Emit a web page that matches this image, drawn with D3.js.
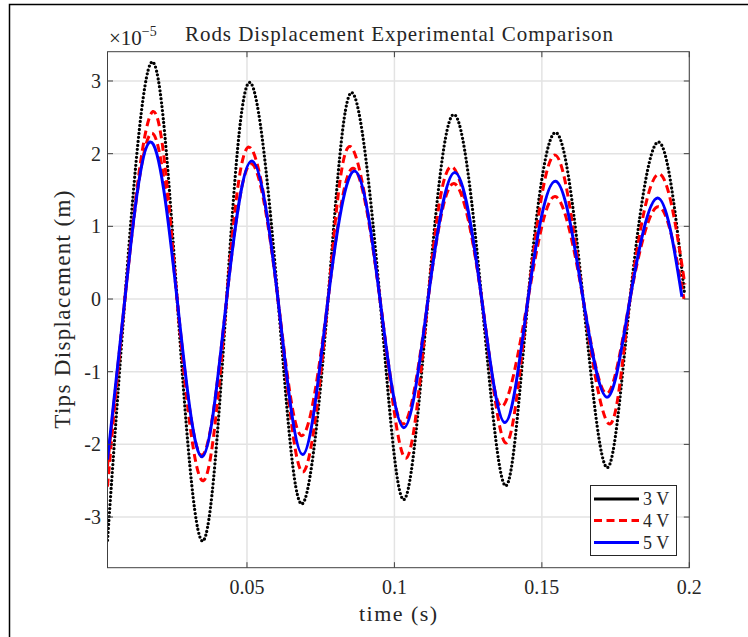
<!DOCTYPE html>
<html>
<head>
<meta charset="utf-8">
<script src="https://cdn.jsdelivr.net/npm/d3@7"></script>
<style>
  html, body { margin: 0; padding: 0; background: #fff; }
  svg { display: block; }
  text { font-family: "Liberation Serif", "DejaVu Serif", serif; fill: #262626; }
</style>
</head>
<body>
<svg id="chart" width="748" height="637"></svg>
<script>
// ---- data (time in s, displacement in 1e-5 m) ----
const series3V = [[0.0027,-3.32],[0.0086,0],[0.0177,3.26],[0.0263,0],[0.0350,-3.33],[0.0431,0],[0.0510,2.98],[0.0605,0],[0.0686,-2.82],[0.0775,0],[0.0855,2.84],[0.0951,0],[0.1032,-2.76],[0.1114,0],[0.1202,2.54],[0.1296,0],[0.1378,-2.57],[0.1453,0],[0.1547,2.29],[0.1640,0],[0.1722,-2.32],[0.1799,0],[0.1895,2.16],[0.1983,0.1]];
const series4Va = [[0.0027,-2.58],[0.0086,0],[0.0181,2.58],[0.0263,0],[0.0352,-2.50],[0.0431,0],[0.0507,2.09],[0.0605,0],[0.0689,-2.38],[0.0775,0],[0.0849,2.10],[0.0951,0],[0.1039,-2.19],[0.1114,0],[0.1194,1.82],[0.1296,0],[0.1378,-1.98],[0.1453,0],[0.1545,1.98],[0.1640,0],[0.1731,-1.72],[0.1799,0],[0.1895,1.72],[0.1985,0.2]];
const series4Vb = [[0.0027,-2.30],[0.0086,0],[0.0176,2.28],[0.0263,0],[0.0348,-2.15],[0.0431,0],[0.0515,1.86],[0.0605,0],[0.0686,-1.88],[0.0775,0],[0.0860,1.80],[0.0951,0],[0.1030,-1.72],[0.1114,0],[0.1202,1.59],[0.1296,0],[0.1364,-1.48],[0.1453,0],[0.1545,1.41],[0.1640,0],[0.1720,-1.30],[0.1799,0],[0.1895,1.27],[0.1982,0.0]];
const series5V = [[0.0027,-2.21],[0.0086,0],[0.0171,2.16],[0.0263,0],[0.0348,-2.17],[0.0431,0],[0.0516,1.90],[0.0605,0],[0.0689,-2.14],[0.0775,0],[0.0866,1.76],[0.0951,0],[0.1032,-1.77],[0.1114,0],[0.1205,1.74],[0.1296,0],[0.1375,-1.70],[0.1453,0],[0.1547,1.62],[0.1640,0],[0.1722,-1.35],[0.1799,0],[0.1892,1.39],[0.1975,0.03]];
const xTicks = [0.05, 0.1, 0.15, 0.2];
const xTickLabels = ["0.05", "0.1", "0.15", "0.2"];
const yTicks = [-3, -2, -1, 0, 1, 2, 3];
const yTickLabels = ["-3", "-2", "-1", "0", "1", "2", "3"];
const legendLabels = ["3 V", "4 V", "5 V"];
const xDomain = [0.0027, 0.2];
const yDomain = [-3.697, 3.403];

// ---- layout ----
const svg = d3.select("#chart");
const L = 107.5, R = 689.3, T = 51.7, B = 567.7;
const x = d3.scaleLinear().domain(xDomain).range([L, R]);
const y = d3.scaleLinear().domain(yDomain).range([B, T]);
const axisCol = "#404040";

// figure frame (partially visible)
svg.append("path").attr("d", `M9.5,637 L9.5,4.5 L748,4.5`).attr("fill", "none").attr("stroke", "#000").attr("stroke-width", 1.5);

// grid
const grid = svg.append("g");
grid.selectAll(".gx").data(xTicks).join("line")
  .attr("x1", d => x(d)).attr("x2", d => x(d)).attr("y1", T).attr("y2", B)
  .attr("stroke", "#e3e3e3").attr("stroke-width", 1.5);
grid.selectAll(".gy").data(yTicks).join("line")
  .attr("y1", d => y(d)).attr("y2", d => y(d)).attr("x1", L).attr("x2", R)
  .attr("stroke", "#e3e3e3").attr("stroke-width", 1.5);

// clip
svg.append("clipPath").attr("id", "clip").append("rect")
  .attr("x", L).attr("y", T).attr("width", R - L).attr("height", B - T);

const line = d3.line().x(d => x(d[0])).y(d => y(d[1])).curve(d3.curveNatural);
const plot = svg.append("g").attr("clip-path", "url(#clip)");
plot.append("path").datum(series3V).attr("d", line)
  .attr("fill", "none").attr("stroke", "#000").attr("stroke-width", 3.3)
  .attr("stroke-linecap", "round").attr("stroke-dasharray", "0,4");
[series4Va, series4Vb].forEach(s => {
  plot.append("path").datum(s).attr("d", line)
    .attr("fill", "none").attr("stroke", "#ff0000").attr("stroke-width", 3)
    .attr("stroke-dasharray", "8,4.5");
});
plot.append("path").datum(series5V).attr("d", line)
  .attr("fill", "none").attr("stroke", "#0000ff").attr("stroke-width", 3);

// axes box + inward ticks
const ax = svg.append("g");
ax.append("rect").attr("x", L).attr("y", T).attr("width", R - L).attr("height", B - T)
  .attr("fill", "none").attr("stroke", axisCol).attr("stroke-width", 1);
const tl = 5.5;
xTicks.forEach(d => {
  ax.append("line").attr("x1", x(d)).attr("x2", x(d)).attr("y1", B).attr("y2", B - tl).attr("stroke", axisCol);
  ax.append("line").attr("x1", x(d)).attr("x2", x(d)).attr("y1", T).attr("y2", T + tl).attr("stroke", axisCol);
});
yTicks.forEach(d => {
  ax.append("line").attr("y1", y(d)).attr("y2", y(d)).attr("x1", L).attr("x2", L + tl).attr("stroke", axisCol);
  ax.append("line").attr("y1", y(d)).attr("y2", y(d)).attr("x1", R).attr("x2", R - tl).attr("stroke", axisCol);
});
ax.selectAll(".xl").data(xTicks).join("text")
  .attr("x", d => x(d)).attr("y", 594).attr("text-anchor", "middle")
  .attr("font-size", 20).text((d, i) => xTickLabels[i]);
ax.selectAll(".yl").data(yTicks).join("text")
  .attr("x", 101).attr("y", d => y(d) + 7).attr("text-anchor", "end")
  .attr("font-size", 20).text((d, i) => yTickLabels[i]);

// exponent
const ex = svg.append("text").attr("x", 109).attr("y", 45).attr("font-size", 21);
ex.append("tspan").text("×10");
ex.append("tspan").attr("font-size", 14).attr("dy", -9).text("−5");

// title & labels
svg.append("text").attr("x", 399).attr("y", 41).attr("text-anchor", "middle")
  .attr("font-size", 21).attr("textLength", 428).attr("lengthAdjust", "spacing")
  .text("Rods Displacement Experimental Comparison");
svg.append("text").attr("x", 398).attr("y", 621).attr("text-anchor", "middle")
  .attr("font-size", 22).attr("textLength", 78).attr("lengthAdjust", "spacing")
  .text("time (s)");
svg.append("text").attr("transform", `translate(70,${(T + B) / 2}) rotate(-90)`)
  .attr("text-anchor", "middle").attr("font-size", 23)
  .attr("textLength", 238).attr("lengthAdjust", "spacing")
  .text("Tips Displacement (m)");

// legend
const lg = svg.append("g");
lg.append("rect").attr("x", 590.5).attr("y", 485.5).attr("width", 86).attr("height", 70)
  .attr("fill", "#fff").attr("stroke", "#262626").attr("stroke-width", 1);
const ly = [499, 520.5, 542.5];
const lstyles = [
  {c: "#000", dash: null},
  {c: "#ff0000", dash: "8,4.5"},
  {c: "#0000ff", dash: null}
];
legendLabels.forEach((lab, i) => {
  const l = lg.append("line").attr("x1", 594).attr("x2", 639).attr("y1", ly[i]).attr("y2", ly[i])
    .attr("stroke", lstyles[i].c).attr("stroke-width", 3);
  if (lstyles[i].dash) l.attr("stroke-dasharray", lstyles[i].dash);
  lg.append("text").attr("x", 643).attr("y", ly[i] + 6).attr("font-size", 18).text(lab);
});
</script>
</body>
</html>
